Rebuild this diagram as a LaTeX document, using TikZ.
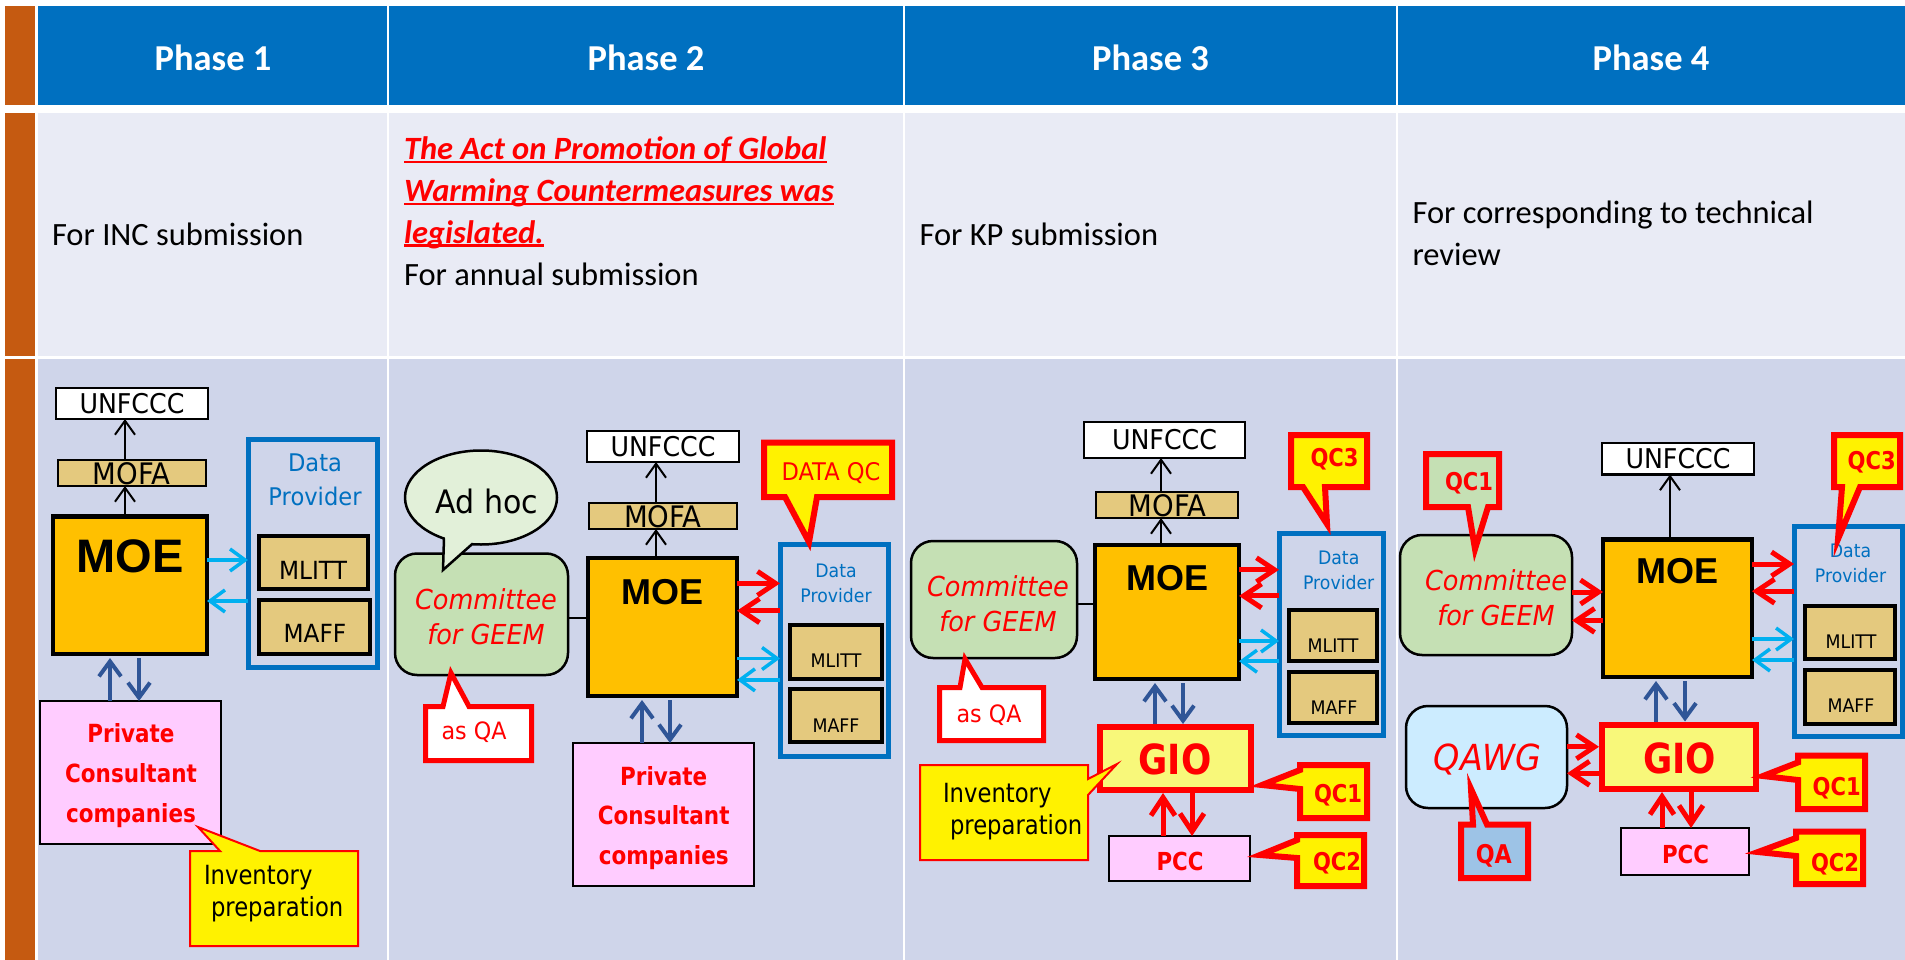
\documentclass[tikz,border=0pt]{standalone}
\usepackage{fontspec}
\setmainfont{DejaVu Sans}[FakeStretch=0.93]
\newfontfamily\tah{DejaVu Sans}[FakeStretch=0.86]
\newfontfamily\calibri{Carlito}
\newfontfamily\arialf{Liberation Sans}
\usetikzlibrary{arrows.meta,shapes.geometric}
\definecolor{hdrblue}{HTML}{0070C0}
\definecolor{brownbar}{HTML}{C55A11}
\definecolor{rowa}{HTML}{E9EBF5}
\definecolor{rowb}{HTML}{CFD5EA}
\definecolor{mytan}{HTML}{E4C97E}
\definecolor{moeor}{HTML}{FFC000}
\definecolor{pinkbox}{HTML}{FFCCFF}
\definecolor{greenbox}{HTML}{C5E0B4}
\definecolor{adhocg}{HTML}{E2F0D9}
\definecolor{gioy}{HTML}{F8F87A}
\definecolor{qawgb}{HTML}{CCECFF}
\definecolor{qab}{HTML}{9DC3E6}
\definecolor{cyanar}{HTML}{00B0F0}
\definecolor{dkblue}{HTML}{2F5597}
\definecolor{dpblue}{HTML}{0070C0}
\newcommand\fsz[2]{\fontsize{#1}{#2}\selectfont}
\newcommand\redul[1]{\setbox0=\hbox{#1}\rlap{\color{red}\rule[-3.5pt]{\wd0}{2.2pt}}\box0}
\newcommand{\rbox}[7]{%
  \pgfmathsetmacro\rbw{#5-#3}%
  \pgfmathsetmacro\rbh{#6-#4}%
  \pgfmathsetmacro\rbx{(#3+#5)/2}%
  \pgfmathsetmacro\rby{(#4+#6)/2}%
  \node[#1, minimum width=\rbw pt, minimum height=\rbh pt] (#2) at (\rbx,\rby) {#7};}
\tikzset{
 nbox/.style={draw, inner sep=0pt, outer sep=0pt},
 unfbox/.style={nbox, fill=white, line width=2.5pt, font=\fsz{27.2}{32}},
 mofabox/.style={nbox, fill=mytan, line width=2pt},
 moebox/.style={nbox, fill=moeor, line width=4.5pt},
 dpbox/.style={nbox, draw=dpblue, line width=5pt},
 minbox/.style={nbox, fill=mytan, line width=4pt},
 prvbox/.style={nbox, fill=pinkbox, line width=2.5pt},
 combox/.style={nbox, fill=greenbox, line width=2.5pt, rounded corners=22pt},
 giobox/.style={nbox, draw=red, fill=gioy, line width=6pt},
 qawgbox/.style={nbox, fill=qawgb, line width=2.5pt, rounded corners=22pt},
 lbl/.style={inner sep=0pt, outer sep=0pt},
 hdr/.style={lbl, text=white, font=\calibri\bfseries\fsz{36.5}{44}},
 rtwo/.style={lbl, anchor=base west, font=\calibri\fsz{32.5}{40}},
 rtwored/.style={lbl, anchor=base west, text=red, font=\calibri\bfseries\itshape\fsz{32.5}{40}},
 mofat/.style={lbl, font=\fsz{29.6}{34}},
 moet/.style={lbl, font=\arialf\bfseries\fsz{36}{42}},
 dpt/.style={lbl, align=center, text=dpblue, font=\fsz{18.6}{25}},
 mint/.style={lbl, font=\fsz{18.7}{22}},
 prvt/.style={lbl, align=center, text=red, font=\tah\bfseries\fsz{25}{39.7}},
 comt/.style={lbl, align=center, text=red, font=\itshape\fsz{27.5}{35}},
 invt/.style={lbl, anchor=west, align=left, font=\tah\fsz{26.4}{32.6}},
 qct/.style={lbl, text=red, font=\tah\bfseries\fsz{24.5}{29}},
 giot/.style={lbl, text=red, font=\tah\bfseries\fsz{41.5}{48}},
 calk/.style={draw=red, line width=6pt, line join=miter},
 calt/.style={draw=red, line width=2pt, line join=miter, fill=yellow},
 blkar/.style={black, line width=2pt, -{Straight Barb[length=14pt,width=20pt]}},
 cyar/.style={cyanar, line width=3.5pt, -{Straight Barb[length=15pt,width=22pt]}},
 redar/.style={red, line width=5pt, -{Straight Barb[length=18pt,width=24pt]}},
 dbar/.style={dkblue, line width=4pt, -{Straight Barb[length=15pt,width=22pt]}},
 conn/.style={black, line width=2pt},
}
\begin{document}
\begin{tikzpicture}[x=1pt,y=-1pt]
\useasboundingbox (0,0) rectangle (1905,960);
% ---------- table background ----------
\fill[white] (0,0) rectangle (1905,960);
\fill[brownbar] (5,5.7) rectangle (35,105.3);
\fill[brownbar] (5,113.3) rectangle (35,356);
\fill[brownbar] (5,358.7) rectangle (35,960);
\fill[hdrblue] (37.7,5.7) rectangle (1905,105.3);
\fill[rowa] (37.7,113.3) rectangle (1905,356);
\fill[rowb] (37.7,358.7) rectangle (1905,960);
\foreach \cx in {388,904,1397}{\draw[white, line width=2.5pt] (\cx,0) -- (\cx,960);}
% ---------- header ----------
\node[hdr] (ph1) at (213,58.3) {Phase 1};
\node[hdr] (ph2) at (646,58.3) {Phase 2};
\node[hdr] (ph3) at (1150.5,58.3) {Phase 3};
\node[hdr] (ph4) at (1651,58.3) {Phase 4};
% ---------- row 2 ----------
\node[rtwo] (t1) at (52,245.5) {For INC submission};
\node[rtwored] (t2a) at (404,160) {\redul{The Act on Promotion of Global}};
\node[rtwored] (t2b) at (404,201.7) {\redul{Warming Countermeasures was}};
\node[rtwored] (t2c) at (404,243) {\redul{legislated.}};
\node[rtwo] (t2d) at (404,285) {For annual submission};
\node[rtwo] (t3) at (919.5,245.5) {For KP submission};
\node[rtwo] (t4a) at (1412.5,223) {For corresponding to technical};
\node[rtwo] (t4b) at (1412.5,265) {review};
% =============== PHASE 1 ===============
\rbox{unfbox}{unf1}{56}{388}{208}{419}{UNFCCC}
\rbox{mofabox}{mofa1}{58}{460}{206}{486}{}
\node[mofat] (mofa1t) at (131.7,473.5) {MOFA};
\rbox{moebox}{moe1}{53}{516.5}{207}{654}{}
\node[moet, font=\arialf\bfseries\fsz{47}{56}] (moe1t) at (130,556) {MOE};
\rbox{dpbox}{dp1}{248}{439.5}{377}{667}{}
\node[dpt, font=\fsz{24.3}{34}] (dp1t) at (315,479.4) {Data\\Provider};
\rbox{minbox}{mlitt1}{259}{536}{368}{589}{}
\node[mint, font=\fsz{25}{30}] (mlitt1t) at (313,570) {MLITT};
\rbox{minbox}{maff1}{259}{600}{370}{654}{}
\node[mint, font=\fsz{25}{30}] (maff1t) at (315,633) {MAFF};
\rbox{prvbox}{prv1}{40}{701}{221}{844}{}
\node[prvt] (prv1t) at (131,775.4) {Private\\Consultant\\companies};
\draw[blkar] (moe1.north -| 125,0) -- (mofa1.south -| 125,0);
\draw[blkar] (mofa1.north -| 125,0) -- (unf1.south -| 125,0);
\draw[cyar] (moe1.east |- 0,560) -- (dp1.west |- 0,560);
\draw[cyar] (dp1.west |- 0,601) -- (moe1.east |- 0,601);
\draw[dbar, shorten >=4pt] (prv1.north -| 110,0) -- (moe1.south -| 110,0);
\draw[dbar, shorten <=4pt] (moe1.south -| 139,0) -- (prv1.north -| 139,0);
\draw[calt] (190,851) -- (220,851) -- (198,827) -- (260,851) -- (358,851) -- (358,946) -- (190,946) -- cycle;
\node[invt] (inv1t) at (204,893.6) {Inventory\\\hspace*{7pt}preparation};
% =============== PHASE 2 ===============
\rbox{combox}{com2}{395}{553.5}{568}{675}{}
\node[comt] (com2t) at (486,617) {Committee\\for GEEM};
\node[ellipse, draw, line width=2.5pt, fill=adhocg, minimum width=152pt, minimum height=94pt, inner sep=0pt] (adhoc) at (481,497.5) {};
\fill[adhocg] (445,530) -- (445,539) -- (443,570) -- (471,544.5) -- (471,530) -- cycle;
\draw[line width=2.5pt, line join=miter] (444,538.5) -- (443,570) -- (472,544.2);
\node[lbl, font=\fsz{32.3}{38}] (adhoct) at (486.7,501.7) {Ad hoc};
\draw[calk, line width=5pt, fill=white] (425.5,706.5) -- (443,706.5) -- (451,673) -- (469,706.5) -- (531.5,706.5) -- (531.5,760.5) -- (425.5,760.5) -- cycle;
\node[lbl, text=red, font=\fsz{23.9}{28}] (asqa2t) at (474,732) {as QA};
\rbox{unfbox}{unf2}{587}{431}{739}{462}{UNFCCC}
\rbox{mofabox}{mofa2}{589}{502.5}{737}{529}{}
\node[mofat] (mofa2t) at (663,517) {MOFA};
\rbox{moebox}{moe2}{588}{558}{737}{696}{}
\node[moet] (moe2t) at (662.5,592) {MOE};
\draw[blkar] (moe2.north -| 656,0) -- (mofa2.south -| 656,0);
\draw[blkar] (mofa2.north -| 656,0) -- (unf2.south -| 656,0);
\draw[conn] (com2.east |- 0,618.4) -- (moe2.west |- 0,618.4);
\rbox{dpbox}{dp2}{780}{544.5}{888}{756}{}
\node[dpt] (dp2t) at (836,583) {Data\\Provider};
\rbox{minbox}{mlitt2}{790}{625}{882}{679}{}
\node[mint] (mlitt2t) at (836,661) {MLITT};
\rbox{minbox}{maff2}{790}{689}{882}{742}{}
\node[mint] (maff2t) at (836,726) {MAFF};
\draw[redar] (moe2.east |- 0,583.4) -- (dp2.west |- 0,583.4);
\draw[redar] (dp2.west |- 0,610.7) -- (moe2.east |- 0,610.7);
\draw[cyar] (moe2.east |- 0,658.5) -- (dp2.west |- 0,658.5);
\draw[cyar] (dp2.west |- 0,679.9) -- (moe2.east |- 0,679.9);
\rbox{prvbox}{prv2}{573}{743}{754}{886}{}
\node[prvt] (prv2t) at (663.7,817.8) {Private\\Consultant\\companies};
\draw[dbar, shorten >=4pt] (prv2.north -| 642,0) -- (moe2.south -| 642,0);
\draw[dbar, shorten <=4pt] (moe2.south -| 670,0) -- (prv2.north -| 670,0);
\draw[calk, fill=yellow] (764,442.5) -- (892,442.5) -- (892,497) -- (817,497) -- (809,542) -- (785,497) -- (764,497) -- cycle;
\node[lbl, text=red, font=\fsz{24.3}{29}] (dqct) at (831,473.5) {DATA QC};
% =============== PHASE 3 ===============
\rbox{unfbox}{unf3}{1084}{422}{1245}{458}{UNFCCC}
\rbox{mofabox}{mofa3}{1096}{492}{1238}{518}{}
\node[mofat] (mofa3t) at (1167.5,505.6) {MOFA};
\rbox{moebox}{moe3}{1095}{545}{1239}{679}{}
\node[moet] (moe3t) at (1167.5,578.5) {MOE};
\draw[blkar] (moe3.north -| 1161,0) -- (mofa3.south -| 1161,0);
\draw[blkar] (mofa3.north -| 1161,0) -- (unf3.south -| 1161,0);
\rbox{combox}{com3}{911}{541}{1077}{658}{}
\node[comt] (com3t) at (998,603.8) {Committee\\for GEEM};
\draw[conn] (com3.east |- 0,603.6) -- (moe3.west |- 0,603.6);
\draw[calk, line width=5pt, fill=white] (939.5,687.5) -- (960,687.5) -- (965,659) -- (982,687.5) -- (1043.5,687.5) -- (1043.5,740.5) -- (939.5,740.5) -- cycle;
\node[lbl, text=red, font=\fsz{23.9}{28}] (asqa3t) at (989,714.8) {as QA};
\rbox{dpbox}{dp3}{1279}{533}{1383}{735}{}
\node[dpt] (dp3t) at (1338.7,570.8) {Data\\Provider};
\rbox{minbox}{mlitt3}{1289}{610}{1377}{661}{}
\node[mint] (mlitt3t) at (1333,645.3) {MLITT};
\rbox{minbox}{maff3}{1289}{672}{1377}{723}{}
\node[mint] (maff3t) at (1334,707.5) {MAFF};
\draw[redar] (moe3.east |- 0,569.8) -- (dp3.west |- 0,569.8);
\draw[redar] (dp3.west |- 0,595.9) -- (moe3.east |- 0,595.9);
\draw[cyar] (moe3.east |- 0,641) -- (dp3.west |- 0,641);
\draw[cyar] (dp3.west |- 0,661.2) -- (moe3.east |- 0,661.2);
\draw[calk, fill=yellow] (1291,435) -- (1367,435) -- (1367,487) -- (1325,487) -- (1327,524) -- (1303,487) -- (1291,487) -- cycle;
\node[qct] (qc3p3t) at (1334.5,459.5) {QC3};
\rbox{giobox}{gio3}{1100}{727}{1251}{790}{}
\node[giot] (gio3t) at (1175,759.5) {GIO};
\draw[dbar, shorten >=4pt, shorten <=3pt] (gio3.north -| 1155,0) -- (moe3.south -| 1155,0);
\draw[dbar, shorten <=4pt, shorten >=3pt] (moe3.south -| 1183,0) -- (gio3.north -| 1183,0);
\draw[calt] (920,765) -- (1088,765) -- (1088,779) -- (1117,764) -- (1088,795) -- (1088,860) -- (920,860) -- cycle;
\node[invt] (inv3t) at (943,811.6) {Inventory\\\hspace*{7pt}preparation};
\rbox{prvbox}{pcc3}{1109}{836}{1250}{881}{}
\node[qct, font=\tah\bfseries\fsz{24.8}{29}] (pcc3t) at (1180,861.5) {PCC};
\draw[redar, shorten >=3pt] (pcc3.north -| 1163,0) -- (gio3.south -| 1163,0);
\draw[redar, shorten <=3pt] (gio3.south -| 1192,0) -- (pcc3.north -| 1192,0);
\draw[calk, fill=yellow] (1300,765) -- (1367,765) -- (1367,818) -- (1300,818) -- (1300,789) -- (1262,785) -- (1300,770) -- cycle;
\node[qct] (qc1p3t) at (1338,795.5) {QC1};
\draw[calk, fill=yellow] (1297,835) -- (1364,835) -- (1364,886) -- (1297,886) -- (1297,858) -- (1260,855) -- (1297,840) -- cycle;
\node[qct] (qc2p3t) at (1337,863.5) {QC2};
% =============== PHASE 4 ===============
\rbox{unfbox}{unf4}{1602}{443}{1754}{474.5}{UNFCCC}
\rbox{moebox}{moe4}{1603}{539.5}{1752}{677}{}
\node[moet] (moe4t) at (1677,571.3) {MOE};
\draw[blkar] (moe4.north -| 1670,0) -- (unf4.south -| 1670,0);
\rbox{combox}{com4}{1400}{535}{1572}{655}{}
\node[comt] (com4t) at (1496,597.6) {Committee\\for GEEM};
\draw[calk, fill=greenbox] (1426,454) -- (1499,454) -- (1499,507) -- (1488,507) -- (1475,549) -- (1468,507) -- (1426,507) -- cycle;
\node[qct] (qc1p4at) at (1469,482.8) {QC1};
\draw[redar] (com4.east |- 0,592) -- (moe4.west |- 0,592);
\draw[redar] (moe4.west |- 0,620.4) -- (com4.east |- 0,620.4);
\rbox{dpbox}{dp4}{1794}{526}{1902}{736}{}
\node[dpt] (dp4t) at (1850.5,563) {Data\\Provider};
\rbox{minbox}{mlitt4}{1805}{606}{1895}{659}{}
\node[mint] (mlitt4t) at (1851,642) {MLITT};
\rbox{minbox}{maff4}{1805}{670}{1895}{723.5}{}
\node[mint] (maff4t) at (1851,705.6) {MAFF};
\draw[redar] (moe4.east |- 0,564) -- (dp4.west |- 0,564);
\draw[redar] (dp4.west |- 0,591.2) -- (moe4.east |- 0,591.2);
\draw[cyar] (moe4.east |- 0,639) -- (dp4.west |- 0,639);
\draw[cyar] (dp4.west |- 0,660) -- (moe4.east |- 0,660);
\draw[calk, fill=yellow] (1834,435) -- (1900,435) -- (1900,487) -- (1860,487) -- (1838,539) -- (1842,487) -- (1834,487) -- cycle;
\node[qct] (qc3p4t) at (1871.7,461.9) {QC3};
\rbox{giobox}{gio4}{1602}{724.5}{1756}{789}{}
\node[giot] (gio4t) at (1679.7,758) {GIO};
\draw[dbar, shorten >=4pt, shorten <=3pt] (gio4.north -| 1656,0) -- (moe4.south -| 1656,0);
\draw[dbar, shorten <=4pt, shorten >=3pt] (moe4.south -| 1685,0) -- (gio4.north -| 1685,0);
\rbox{qawgbox}{qawg}{1406}{706}{1567}{808}{}
\node[lbl, text=red, font=\itshape\fsz{35.9}{42}] (qawgt) at (1487.5,759.5) {QAWG};
\draw[redar, shorten >=3pt] (qawg.east |- 0,746.8) -- (gio4.west |- 0,746.8);
\draw[redar, shorten <=3pt] (gio4.west |- 0,773.3) -- (qawg.east |- 0,773.3);
\draw[calk, fill=qab] (1461,824.5) -- (1473,824.5) -- (1471,789) -- (1487,824.5) -- (1528,824.5) -- (1528,878) -- (1461,878) -- cycle;
\node[qct, font=\tah\bfseries\fsz{25.8}{30}] (qa4t) at (1493.8,855.8) {QA};
\rbox{prvbox}{pcc4}{1621}{828}{1749}{875}{}
\node[qct, font=\tah\bfseries\fsz{24.8}{29}] (pcc4t) at (1685.5,854.1) {PCC};
\draw[redar, shorten >=3pt] (pcc4.north -| 1662,0) -- (gio4.south -| 1662,0);
\draw[redar, shorten <=3pt] (gio4.south -| 1691,0) -- (pcc4.north -| 1691,0);
\draw[calk, fill=yellow] (1798,755.6) -- (1865,755.6) -- (1865,809) -- (1798,809) -- (1798,780) -- (1763,776) -- (1798,762.4) -- cycle;
\node[qct] (qc1p4bt) at (1836.7,788.6) {QC1};
\draw[calk, fill=yellow] (1796,831.5) -- (1863,831.5) -- (1863,884) -- (1796,884) -- (1796,856) -- (1758,852) -- (1796,838) -- cycle;
\node[qct] (qc2p4t) at (1835,864.1) {QC2};
\end{tikzpicture}
\end{document}
